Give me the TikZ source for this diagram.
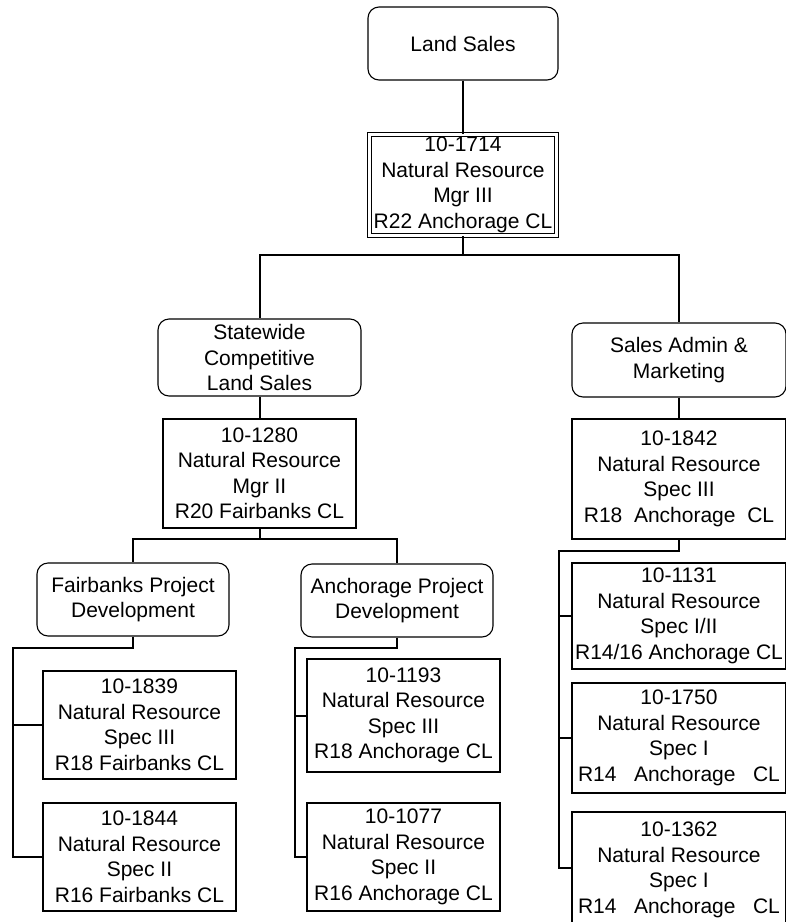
\documentclass[tikz,border=0pt]{standalone}
\usepackage{fontspec}
\setmainfont{Liberation Sans}
\begin{document}
\begin{tikzpicture}[x=1pt,y=-1pt,
  basebox/.style={draw, line width=1.1pt, inner sep=0pt, align=center, font=\fontsize{21pt}{25.5pt}\selectfont},
  unitbox/.style={basebox, rounded corners=11pt},
  posbox/.style={basebox},
  conn/.style={line width=2pt}]
\useasboundingbox (0,0) rectangle (786,922);
% top
\node[unitbox, minimum width=190pt, minimum height=73pt] (ls) at (463,43.5) {Land Sales};
\node[posbox, double, line width=1pt, double distance=3pt, minimum width=187pt, minimum height=101pt] (m3) at (463,185) {10-1714\\Natural Resource\\Mgr III\\R22 Anchorage CL};
% second level
\node[unitbox, minimum width=203pt, minimum height=77pt] (sw) at (259.5,357.5) {Statewide\\Competitive\\Land Sales};
\node[posbox, minimum width=193pt, minimum height=109pt] (m2) at (259.5,473.5) {10-1280\\Natural Resource\\Mgr II\\R20 Fairbanks CL};
\node[unitbox, minimum width=214pt, minimum height=74pt] (sa) at (679,360) {Sales Admin \&\\Marketing};
\node[posbox, minimum width=214pt, minimum height=120pt] (s1842) at (679,479) {10-1842\\Natural Resource\\Spec III\\R18\ \ Anchorage\ \ CL};
% right column
\node[posbox, minimum width=214pt, minimum height=106pt] (s1131) at (679,616) {10-1131\\Natural Resource\\Spec I/II\\R14/16 Anchorage CL};
\node[posbox, minimum width=214pt, minimum height=110pt] (s1750) at (679,738) {10-1750\\Natural Resource\\Spec I\\R14\ \ \ Anchorage\ \ \ CL};
\node[posbox, minimum width=214pt, minimum height=116pt] (s1362) at (679,870) {10-1362\\Natural Resource\\Spec I\\R14\ \ \ Anchorage\ \ \ CL};
% project units
\node[unitbox, minimum width=192pt, minimum height=73pt] (fp) at (133,599.5) {Fairbanks Project\\Development};
\node[unitbox, minimum width=192pt, minimum height=73pt] (ap) at (397,600.5) {Anchorage Project\\Development};
\node[posbox, minimum width=193pt, minimum height=108pt] (s1839) at (139.5,725) {10-1839\\Natural Resource\\Spec III\\R18 Fairbanks CL};
\node[posbox, minimum width=193pt, minimum height=108pt] (s1844) at (139.5,857) {10-1844\\Natural Resource\\Spec II\\R16 Fairbanks CL};
\node[posbox, minimum width=193pt, minimum height=113pt] (s1193) at (403.5,715.5) {10-1193\\Natural Resource\\Spec III\\R18 Anchorage CL};
\node[posbox, minimum width=193pt, minimum height=108pt] (s1077) at (403.5,857) {10-1077\\Natural Resource\\Spec II\\R16 Anchorage CL};
% connector junctions
\coordinate (b1) at (463,255);
\coordinate (b2) at (259.5,539);
\coordinate (lc) at (13,648);
\coordinate (mc) at (295,648);
\coordinate (rc) at (559,551);
\coordinate (rl) at (559,868);
% connectors
\draw[conn] (ls.south) -- (m3.north);
\draw[conn] (m3.south) -- (b1) -| (sw.north);
\draw[conn] (b1) -| (sa.north);
\draw[conn] (sw.south) -- (m2.north);
\draw[conn] (sa.south) -- (s1842.north);
\draw[conn] (m2.south) -- (b2) -| (fp.north);
\draw[conn] (b2) -| (ap.north);
\draw[conn] (fp.south) |- (lc) |- (s1844.west);
\draw[conn] (lc) |- (s1839.west);
\draw[conn] (ap.south) |- (mc) |- (s1077.west);
\draw[conn] (mc) |- (s1193.west);
\draw[conn] (s1842.south) |- (rc) -- (rl) -- (s1362.west |- rl);
\draw[conn] (rc) |- (s1131.west);
\draw[conn] (rc) |- (s1750.west);
\end{tikzpicture}
\end{document}
